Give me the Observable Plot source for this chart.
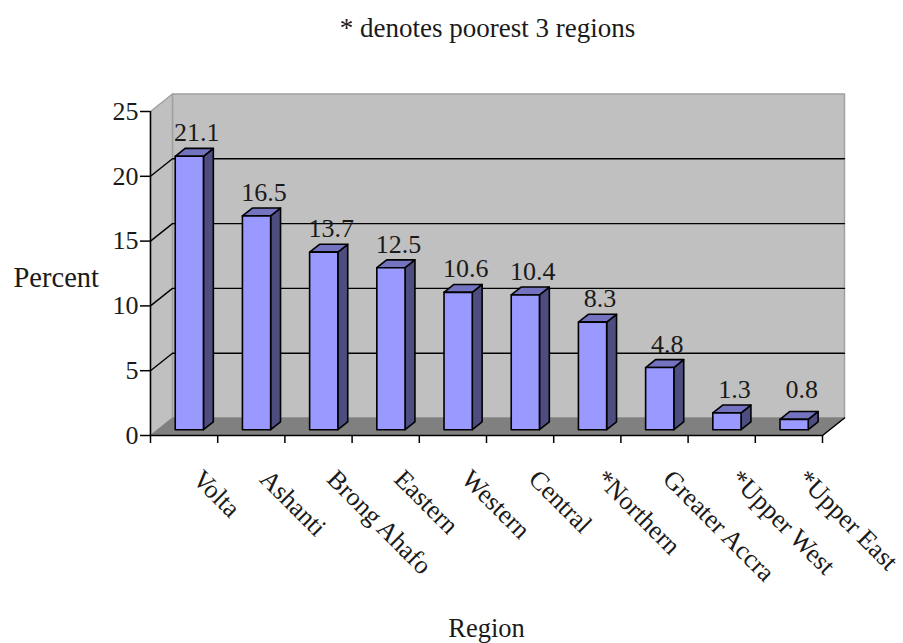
<!DOCTYPE html>
<html><head><meta charset="utf-8">
<script src="https://cdn.jsdelivr.net/npm/d3@7"></script>
<script src="https://cdn.jsdelivr.net/npm/@observablehq/plot@0.6"></script>
<style>
html,body{margin:0;padding:0;background:#fff;width:903px;height:643px;overflow:hidden}
body{font-family:"Liberation Serif",serif;color:#1a1a1a}
#title{height:56px;line-height:56px;font-size:27px;text-align:center;padding-left:72px;box-sizing:border-box}
#caption{height:32px;line-height:34px;font-size:26.5px;text-align:center;padding-left:70px;box-sizing:border-box}
svg{display:block}
</style></head><body>
<div id="title">* denotes poorest 3 regions</div>
<div id="chart"></div>
<div id="caption">Region</div>
<script>
const regions = ["Volta","Ashanti","Brong Ahafo","Eastern","Western","Central","*Northern","Greater Accra","*Upper West","*Upper East"];
const percents = [21.1,16.5,13.7,12.5,10.6,10.4,8.3,4.8,1.3,0.8];
const yTicks = [0,5,10,15,20,25];

// oblique projection: depth 0 = front of the box, depth 1 = back wall (in data units)
const DX = 0.327, DY = 1.35;
const P = (x, v, d) => ({x: x + d * DX, y: v + d * DY});
const poly = (id, pts) => [...pts, pts[0]].map(p => ({id, ...p}));

const n = regions.length, yMax = 25;
const backWall = poly("back", [P(0,0,1),P(n,0,1),P(n,yMax,1),P(0,yMax,1)]);
const sideWall = poly("side", [P(0,0,0),P(0,0,1),P(0,yMax,1),P(0,yMax,0)]);
const floor = poly("floor", [P(0,0,0),P(n,0,0),P(n,0,1),P(0,0,1)]);

const grid = yTicks.filter(t => t > 0 && t < yMax).flatMap(t =>
  [P(0,t,0),P(0,t,1),P(n,t,1)].map(p => ({id:t, ...p})));

const d0 = 0.33, d1 = 0.78, bx0 = 0.26, bx1 = 0.68;
const faces = {front:[], side:[], top:[]};
percents.forEach((v,i) => {
  const a = i + bx0, b = i + bx1;
  faces.front.push(...poly(i, [P(a,0,d0),P(b,0,d0),P(b,v,d0),P(a,v,d0)]));
  faces.side.push(...poly(i, [P(b,0,d0),P(b,0,d1),P(b,v,d1),P(b,v,d0)]));
  faces.top.push(...poly(i, [P(a,v,d0),P(b,v,d0),P(b,v,d1),P(a,v,d1)]));
});

const labels = percents.map((v,i) => ({
  x: i + 0.69, y: Math.max(v, 1.3) + d1 * DY, text: v.toFixed(1)
}));

const lineOpts = {x:"x", y:"y", z:"id", curve:"linear"};
const barStroke = {stroke:"#000", strokeWidth:1.6, strokeLinejoin:"round"};
const fs = 26;

const plot = Plot.plot({
  width: 903, height: 555,
  marginLeft: 150, marginRight: 81, marginTop: 55, marginBottom: 176,
  style: {background:"#fff", fontFamily:'"Liberation Serif",serif', overflow:"visible"},
  x: {domain:[0,n], axis:null},
  y: {domain:[0,yMax], axis:null},
  marks: [
    Plot.line(backWall, {...lineOpts, fill:"#c0c0c0", stroke:"#a0a0a0", strokeWidth:1.5}),
    Plot.line(sideWall, {...lineOpts, fill:"#c0c0c0", stroke:"#a0a0a0", strokeWidth:1.5}),
    Plot.line(floor, {...lineOpts, fill:"#808080", stroke:"#808080", strokeWidth:1}),
    Plot.line(grid, {...lineOpts, stroke:"#000", strokeWidth:1.4}),
    Plot.line(faces.side, {...lineOpts, fill:"#4d4d80", ...barStroke}),
    Plot.line(faces.top, {...lineOpts, fill:"#7373bf", ...barStroke}),
    Plot.line(faces.front, {...lineOpts, fill:"#9999ff", ...barStroke}),
    Plot.text(labels, {x:"x", y:"y", text:"text", dy:-7, lineAnchor:"bottom", fontSize:fs, fill:"#1a1a1a"}),
    Plot.line([P(n,0,0),P(n,0,1)], {x:"x", y:"y", stroke:"#000", strokeWidth:1.5}),
    Plot.ruleX([0], {y1:0, y2:yMax, stroke:"#000", strokeWidth:1.5}),
    Plot.ruleY([0], {x1:0, x2:n, stroke:"#000", strokeWidth:1.5}),
    Plot.axisY({ticks:yTicks, tickSize:10, tickPadding:2, fontSize:fs, tickFormat:d3.format("d"),
      stroke:"#000", strokeWidth:1.5, fill:"#1a1a1a", label:null}),
    Plot.axisX({ticks:d3.range(0,n+1), tickSize:8, tickFormat:()=>"", stroke:"#000", strokeWidth:1.5, label:null}),
    Plot.axisX({ticks:d3.range(0.5,n), tickSize:0, tickPadding:39, tickRotate:45, fontSize:26, dx:13,
      tickFormat:t=>regions[Math.floor(t)], fill:"#1a1a1a", stroke:"none", label:null}),
    Plot.text(["Percent"], {frameAnchor:"left", textAnchor:"start", dx:-137, dy:4, fontSize:28.5, fill:"#1a1a1a"})
  ]
});
document.getElementById("chart").appendChild(plot);
</script>
</body></html>
